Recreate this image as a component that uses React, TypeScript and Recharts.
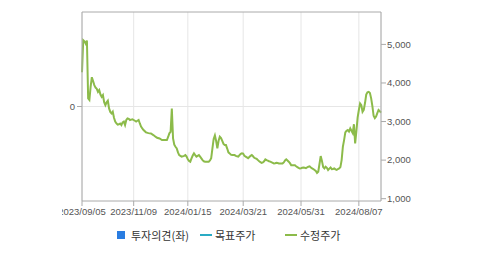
import React from 'react';
import { LineChart, Line, XAxis, YAxis, CartesianGrid, ReferenceLine } from 'recharts';

// trading-day index (0 = 2023/09/05) and adjusted close price
const tradeDay = [
    0, 1, 2, 3, 4, 5, 6, 7, 8, 9, 10, 11, 12, 13, 14, 15, 16, 17, 18, 19, 20, 21, 22, 23, 24, 25, 26, 27, 28, 29,
    30, 31, 32, 33, 34, 35, 36, 37, 38, 39, 40, 41, 42, 43, 44, 45, 46, 47, 48, 49, 50, 52, 54, 56, 58, 60, 61, 63, 65, 67,
    69, 70, 71, 72, 73, 74, 75, 76, 77, 78, 79, 80, 81, 83, 84, 85, 86, 87, 88, 89, 90, 91, 92, 93, 94, 95, 96, 97, 98, 99,
    100, 102, 103, 104, 105, 106, 107, 108, 109, 110, 111, 112, 113, 114, 115, 116, 117, 118, 119, 120, 121, 122, 124, 125, 126, 127, 128, 129, 130, 131,
    132, 133, 134, 135, 136, 137, 138, 139, 140, 141, 142, 143, 144, 145, 146, 147, 148, 149, 150, 151, 152, 153, 155, 156, 157, 158, 159, 160, 163, 164,
    165, 166, 167, 168, 169, 170, 172, 173, 174, 175, 176, 177, 178, 179, 180, 181, 182, 183, 184, 185, 186, 187, 188, 189, 190, 191, 192, 193, 194, 195,
    196, 197, 198, 199, 200, 201, 202, 203, 204, 205, 206, 207, 208, 209, 210, 211, 212, 213, 214, 215, 216, 217, 218, 219, 220, 221, 222, 223, 224, 225,
    226, 227, 228, 229, 230, 231, 232, 233, 234, 235, 236, 237, 238, 239, 240, 241, 242, 243,
];
const price = [
    4280, 5110, 5080, 5020, 5100, 3600, 3560, 3900, 4150, 4050, 3945, 3880, 3850, 3770, 3815, 3700, 3640, 3685, 3500, 3425, 3500, 3540, 3340, 3250, 3210, 3255, 3100, 3000, 2950, 2920,
    2930, 2950, 2910, 2980, 3000, 2910, 3040, 3080, 3070, 3040, 3050, 3060, 3040, 3020, 3000, 3020, 3040, 2950, 2870, 2820, 2780, 2720, 2700, 2690, 2650, 2600, 2580, 2560, 2520, 2520,
    2520, 2600, 2695, 2735, 3340, 2565, 2400, 2345, 2305, 2200, 2130, 2110, 2090, 2110, 2130, 2090, 2020, 1980, 1960, 2045, 2120, 2175, 2130, 2090, 2110, 2130, 2090, 2045, 2000, 1970,
    1960, 1960, 1960, 1990, 2050, 2305, 2550, 2640, 2500, 2305, 2500, 2605, 2570, 2500, 2420, 2390, 2390, 2300, 2200, 2175, 2140, 2130, 2130, 2110, 2100, 2090, 2130, 2160, 2175, 2170,
    2110, 2090, 2070, 2050, 2080, 2110, 2130, 2100, 2060, 2045, 2030, 2000, 1970, 1950, 1930, 1940, 1970, 2020, 2000, 1985, 1970, 1960, 1930, 1915, 1920, 1930, 1925, 1915, 1915, 1940,
    1990, 2020, 1990, 1960, 1920, 1870, 1870, 1865, 1840, 1820, 1800, 1785, 1790, 1800, 1810, 1800, 1790, 1815, 1830, 1840, 1810, 1785, 1770, 1745, 1720, 1670, 1700, 1900, 2105, 1980,
    1820, 1785, 1830, 1800, 1745, 1780, 1810, 1765, 1770, 1785, 1760, 1745, 1770, 1785, 1820, 2000, 2345, 2520, 2720, 2760, 2780, 2740, 2820, 2760, 2700, 2930, 2435, 2750, 3100, 3300,
    3470, 3425, 3250, 3300, 3480, 3700, 3760, 3770, 3740, 3600, 3400, 3150, 3090, 3130, 3220, 3300, 3270, 3230,
];

const tickDays = [0, 42, 86, 131, 178, 225];
const tickDates = ['2023/09/05', '2023/11/09', '2024/01/15', '2024/03/21', '2024/05/31', '2024/08/07'];
const priceTicks = [1000, 2000, 3000, 4000, 5000];
const opinionTicks = [0];

const data = tradeDay.map((d, i) => ({ day: d, price: price[i] }));

const axisColor = '#aaaaaa';
const tickStyle = { fill: '#555', fontSize: 9.5, fontFamily: 'Liberation Sans, Arial, sans-serif' };
const green = '#8cbb4a';

export default function App() {
    return (
        <div style={{ position: 'absolute', left: 0, top: 0, width: 479, height: 255, background: '#fff' }}>
            <div style={{ position: 'absolute', left: 62, top: 0 }}>
                <LineChart width={360} height={225} data={data} margin={{ top: 12, right: 0, bottom: 4, left: 0 }}>
                    <CartesianGrid horizontal={false} stroke="#e6e6e6" strokeWidth={1} />
                    <XAxis
                        dataKey="day"
                        type="number"
                        domain={[0, 243]}
                        ticks={tickDays}
                        tickFormatter={(v) => tickDates[tickDays.indexOf(v)] ?? ''}
                        tick={tickStyle}
                        stroke={axisColor}
                        tickSize={5}
                        height={20}
                        interval={0}
                    />
                    <YAxis
                        yAxisId="left"
                        orientation="left"
                        domain={[-1, 1]}
                        ticks={opinionTicks}
                        tick={tickStyle}
                        stroke={axisColor}
                        tickSize={5}
                        width={20}
                        allowDataOverflow
                    />
                    <YAxis
                        yAxisId="right"
                        orientation="right"
                        domain={[940, 5840]}
                        ticks={priceTicks}
                        tickFormatter={(v) => v.toLocaleString('en-US')}
                        tick={tickStyle}
                        stroke={axisColor}
                        tickSize={5}
                        tickMargin={1}
                        width={41}
                        allowDataOverflow
                    />
                    <ReferenceLine yAxisId="left" y={0} stroke="#e6e6e6" />
                    <ReferenceLine yAxisId="right" y={5840} stroke={axisColor} />
                    <Line
                        yAxisId="right"
                        type="linear"
                        dataKey="price"
                        stroke={green}
                        strokeWidth={2}
                        dot={false}
                        isAnimationActive={false}
                    />
                </LineChart>
            </div>
            {/* legend */}
            <div style={{ position: 'absolute', top: 227, left: 0, width: 479, height: 16, fontFamily: '"Noto Sans CJK KR", sans-serif', fontSize: 11, color: '#333' }}>
                <div style={{ position: 'absolute', left: 117, top: 4, width: 8, height: 8, background: '#2a7de1' }} />
                <span style={{ position: 'absolute', left: 131, top: 0, lineHeight: '16px' }}>투자의견(좌)</span>
                <div style={{ position: 'absolute', left: 200, top: 7, width: 12, height: 2, background: '#2aabc4' }} />
                <span style={{ position: 'absolute', left: 215, top: 0, lineHeight: '16px' }}>목표주가</span>
                <div style={{ position: 'absolute', left: 285, top: 7, width: 12, height: 2, background: green }} />
                <span style={{ position: 'absolute', left: 300, top: 0, lineHeight: '16px' }}>수정주가</span>
            </div>
        </div>
    );
}
